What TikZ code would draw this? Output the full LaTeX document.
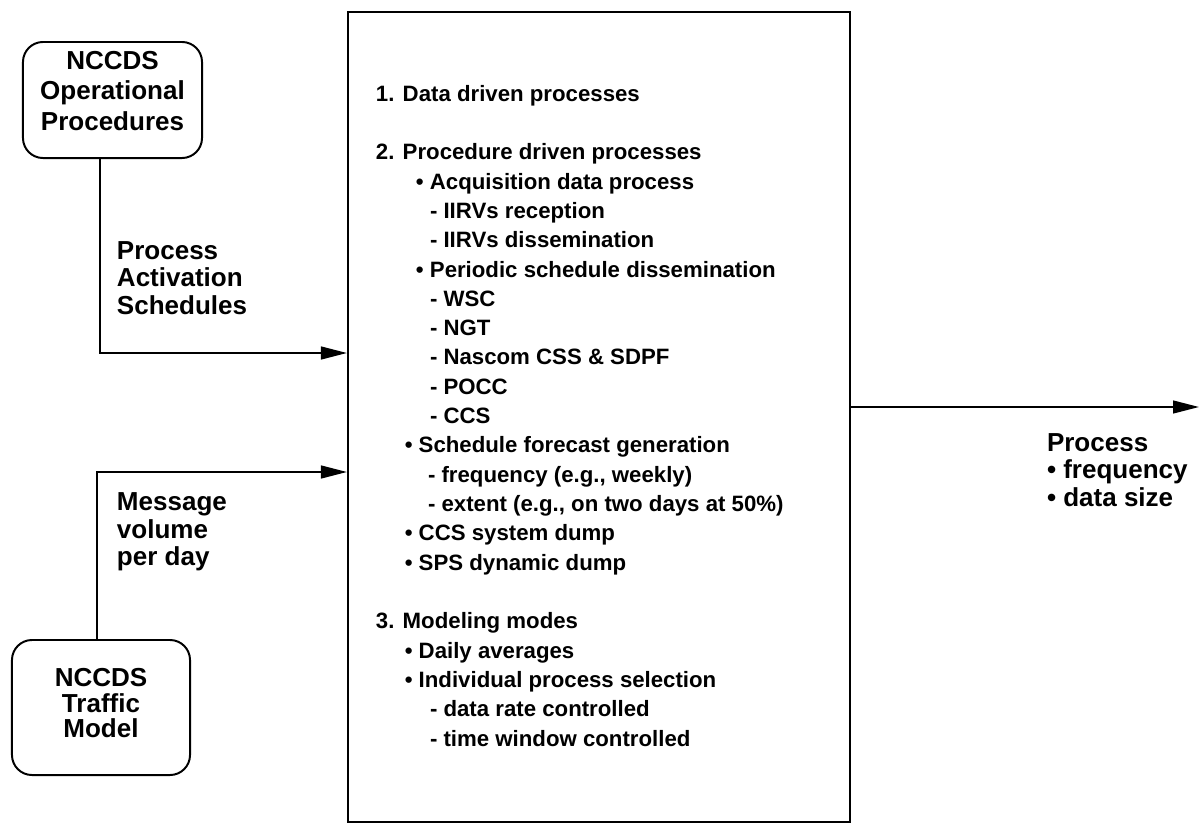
\documentclass[tikz,border=0pt]{standalone}
\usepackage{fontspec}
\setmainfont{Liberation Sans}
\usetikzlibrary{arrows.meta,positioning}

\begin{document}
\begin{tikzpicture}[
    x=0.025cm,y=-0.025cm,
    ->,>={Triangle[length=0.65cm,width=0.32cm]},line width=1.4pt,
  source/.style={draw,rounded corners=0.5cm,align=center,inner sep=0pt},
  flow/.style={align=left,inner sep=0pt,anchor=west,
    font=\bfseries\fontsize{18.5}{19.5}\selectfont},
  listing/.style={align=left,inner sep=0pt,anchor=north west,
    font=\bfseries\fontsize{15.8}{20.85}\selectfont},
]

  \useasboundingbox (0,0) rectangle (1201,828);

  \node[draw,minimum width=12.55cm,minimum height=20.25cm] (proc) at (599,417) {};
  \node[source,minimum width=4.475cm,minimum height=2.9cm,text depth=13pt,
    font=\bfseries\fontsize{18.5}{22}\selectfont] (ops) at (112.5,100)
    {NCCDS\\Operational\\Procedures};
  \node[source,minimum width=4.45cm,minimum height=3.375cm,text depth=6pt,
    font=\bfseries\fontsize{18.5}{18.2}\selectfont] (traffic) at (101,707.5)
    {NCCDS\\Traffic\\Model};

  \coordinate (actIn) at (100,353);
  \coordinate (volIn) at (97,472);
  \coordinate (outEnd) at (1199,407);

  \draw[->] (ops.south -| actIn) |- (proc.west |- actIn);
  \draw[->] (traffic.north -| volIn) |- (proc.west |- volIn);
  \draw[->] (proc.east |- outEnd) -- (outEnd);

  \node[flow] (actLbl) at (116,278) {Process\\Activation\\Schedules};
  \node[flow] (volLbl) at (116,532) {Message\\volume\\per day};
  \node[flow] (outLbl) at (1046,470) {Process\\• frequency\\• data size};

  \node[listing] (list) at (375,84) {1. Data driven processes\\[20.85pt]
    2. Procedure driven processes\\
    \hspace*{1cm}• Acquisition data process\\
    \hspace*{1.35cm}- IIRVs reception\\
    \hspace*{1.35cm}- IIRVs dissemination\\
    \hspace*{1cm}• Periodic schedule dissemination\\
    \hspace*{1.35cm}- WSC\\
    \hspace*{1.35cm}- NGT\\
    \hspace*{1.35cm}- Nascom CSS \& SDPF\\
    \hspace*{1.35cm}- POCC\\
    \hspace*{1.35cm}- CCS\\
    \hspace*{0.72cm}• Schedule forecast generation\\
    \hspace*{1.3cm}- frequency (e.g., weekly)\\
    \hspace*{1.3cm}- extent (e.g., on two days at 50\%)\\
    \hspace*{0.72cm}• CCS system dump\\
    \hspace*{0.72cm}• SPS dynamic dump\\[20.85pt]
    3. Modeling modes\\
    \hspace*{0.72cm}• Daily averages\\
    \hspace*{0.72cm}• Individual process selection\\
    \hspace*{1.35cm}- data rate controlled\\
    \hspace*{1.35cm}- time window controlled};
\end{tikzpicture}
\end{document}
